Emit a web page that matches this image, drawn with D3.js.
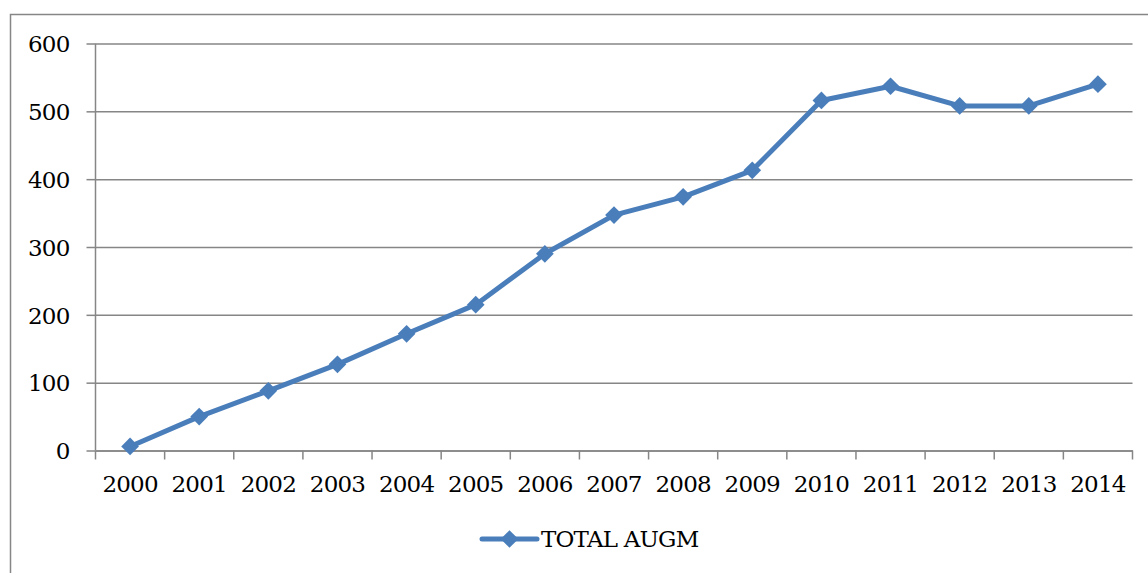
<!DOCTYPE html>
<html>
<head>
<meta charset="utf-8">
<script src="https://cdn.jsdelivr.net/npm/d3@7"></script>
<style>
  body { margin: 0; background: #fff; }
  svg text { font-family: "DejaVu Serif", "Liberation Serif", serif; fill: #000; letter-spacing: -0.8px; }
</style>
</head>
<body>
<svg id="chart" width="1148" height="573"></svg>
<script>
// data
var years = ["2000", "2001", "2002", "2003", "2004", "2005", "2006", "2007",
             "2008", "2009", "2010", "2011", "2012", "2013", "2014"];
var totalAugm = [6, 50, 88, 127, 172, 215, 290, 347, 374, 413, 516, 537, 508, 508, 540];
var yTicks = [0, 100, 200, 300, 400, 500, 600];
var seriesName = "TOTAL AUGM";

var svg = d3.select("#chart"),
    gridColor = "#868686",
    lineColor = "#4a7ebb",
    fontSize = 23;

// outer frame of the chart area
svg.append("rect")
    .attr("x", 10.5).attr("y", 14.5)
    .attr("width", 1150).attr("height", 600)
    .attr("fill", "none").attr("stroke", gridColor).attr("stroke-width", 1.5);

var x = d3.scaleBand().domain(years).range([95.5, 1132.5]).paddingInner(0).paddingOuter(0),
    y = d3.scaleLinear().domain([0, 600]).range([450.5, 43.5]);

// gridlines + y axis
var yAxis = svg.append("g")
    .attr("transform", "translate(95.5,0)")
    .call(d3.axisLeft(y).tickValues(yTicks).tickSize(-(1132.5 - 95.5)).tickSizeOuter(0).tickPadding(26));
yAxis.select(".domain").remove();
yAxis.selectAll(".tick line").attr("stroke", gridColor).attr("stroke-width", 1.5);
yAxis.selectAll(".tick").append("line")
    .attr("x1", -9).attr("x2", 0)
    .attr("stroke", gridColor).attr("stroke-width", 1.5);
yAxis.selectAll(".tick text").attr("font-size", fontSize).attr("dy", "0.36em");

// vertical axis line
svg.append("line")
    .attr("x1", 95.5).attr("x2", 95.5)
    .attr("y1", y(600)).attr("y2", y(0))
    .attr("stroke", gridColor).attr("stroke-width", 1.5);

// x axis with ticks on category boundaries
var xAxis = svg.append("g")
    .attr("transform", "translate(0," + y(0) + ")")
    .call(d3.axisBottom(x).tickSize(0).tickPadding(25));
xAxis.select(".domain").attr("stroke", gridColor).attr("stroke-width", 1.5);
xAxis.selectAll(".tick text").attr("font-size", fontSize);
xAxis.selectAll(".bound")
    .data(years.concat(["end"]))
    .enter().append("line")
    .attr("x1", function (d, i) { return x.range()[0] + i * x.bandwidth(); })
    .attr("x2", function (d, i) { return x.range()[0] + i * x.bandwidth(); })
    .attr("y1", 0).attr("y2", 9)
    .attr("stroke", gridColor).attr("stroke-width", 1.5);

var cx = function (d, i) { return x(years[i]) + x.bandwidth() / 2; };

// series line
var line = d3.line()
    .x(cx)
    .y(function (d) { return y(d); });

svg.append("path")
    .datum(totalAugm)
    .attr("d", line)
    .attr("fill", "none")
    .attr("stroke", lineColor)
    .attr("stroke-width", 5)
    .attr("stroke-linejoin", "round");

var diamond = d3.symbol().type(d3.symbolDiamond2).size(200);

svg.selectAll(".marker")
    .data(totalAugm)
    .enter().append("path")
    .attr("class", "marker")
    .attr("d", diamond)
    .attr("transform", function (d, i) { return "translate(" + cx(d, i) + "," + y(d) + ")"; })
    .attr("fill", lineColor);

// legend
var legend = svg.append("g").attr("transform", "translate(482,539)");
legend.append("line")
    .attr("x1", 0).attr("x2", 55)
    .attr("stroke", lineColor).attr("stroke-width", 5).attr("stroke-linecap", "round");
legend.append("path")
    .attr("d", diamond)
    .attr("transform", "translate(27.5,0)")
    .attr("fill", lineColor);
legend.append("text")
    .attr("x", 59).attr("y", 8)
    .attr("font-size", fontSize)
    .text(seriesName);
</script>
</body>
</html>
